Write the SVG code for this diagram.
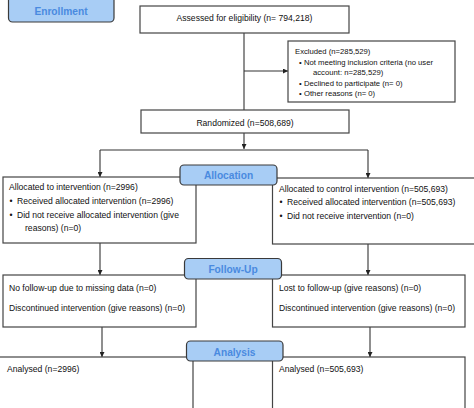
<svg xmlns="http://www.w3.org/2000/svg" width="474" height="408" viewBox="0 0 474 408">
<defs>
<marker id="ah" viewBox="0 0 10 10" refX="10" refY="5" markerWidth="5" markerHeight="5" orient="auto" markerUnits="userSpaceOnUse">
<path d="M0,0 L10,5 L0,10 Z" fill="#222"/>
</marker>
<style>
.box{fill:#fff;stroke:#444;stroke-width:1.2}
.stage{fill:#a8cdf5;stroke:#3a3a3a;stroke-width:1.2}
.st{font-family:"Liberation Sans",Arial,sans-serif;font-weight:bold;font-size:10.2px;fill:#4a8ae0;text-anchor:middle}
.t{font-family:"Liberation Sans",Arial,sans-serif;font-size:8.6px;fill:#111}
.ts{font-family:"Liberation Sans",Arial,sans-serif;font-size:7.7px;fill:#111}
.c{text-anchor:middle}
.ln{fill:none;stroke:#333;stroke-width:1.1}
</style>
</defs>
<rect width="474" height="408" fill="#fff"/>
<g id="connectors">
<path class="ln" d="M244,33 V110"/>
<path class="ln" d="M244,71 H288" marker-end="url(#ah)"/>
<path class="ln" d="M244,133 V149" marker-end="url(#ah)"/>
<path class="ln" d="M100,150 H368"/>
<path class="ln" d="M100,150 V177" marker-end="url(#ah)"/>
<path class="ln" d="M368,150 V178" marker-end="url(#ah)"/>
<path class="ln" d="M100,243 V275" marker-end="url(#ah)"/>
<path class="ln" d="M368,244 V275" marker-end="url(#ah)"/>
<path class="ln" d="M102,327 V357" marker-end="url(#ah)"/>
<path class="ln" d="M370,327 V357" marker-end="url(#ah)"/>
</g>
<g id="assessed">
<rect class="box" x="140" y="6" width="209" height="27"/>
<text class="t c" x="244.5" y="20.5">Assessed for eligibility (n= 794,218)</text>
</g>
<g id="excluded">
<rect class="box" x="288" y="41" width="167" height="61"/>
<text class="ts" x="295" y="54">Excluded  (n=285,529)</text>
<text class="ts" x="299" y="65">•</text><text class="ts" x="304" y="65">Not meeting inclusion criteria (no user</text>
<text class="ts" x="313" y="75">account: n=285,529)</text>
<text class="ts" x="299" y="86">•</text><text class="ts" x="304" y="86">Declined to participate (n= 0)</text>
<text class="ts" x="299" y="96">•</text><text class="ts" x="304" y="96">Other reasons (n= 0)</text>
</g>
<g id="randomized">
<rect class="box" x="141" y="110" width="208" height="23"/>
<text class="t c" x="245" y="126">Randomized (n=508,689)</text>
</g>
<g id="alloc-left">
<rect class="box" x="3" y="177" width="193" height="66"/>
<text class="t" x="9" y="190">Allocated to intervention (n=2996)</text>
<text class="t" x="9.5" y="204">•</text><text class="t" x="17" y="204">Received allocated intervention (n=2996)</text>
<text class="t" x="9.5" y="218">•</text><text class="t" x="17" y="218">Did not receive allocated intervention (give</text>
<text class="t" x="25" y="231">reasons) (n=0)</text>
</g>
<g id="alloc-right">
<rect class="box" x="272.5" y="178" width="210" height="66"/>
<text class="t" x="279" y="192">Allocated to control intervention (n=505,693)</text>
<text class="t" x="279.5" y="205">•</text><text class="t" x="287" y="205">Received allocated intervention (n=505,693)</text>
<text class="t" x="279.5" y="219">•</text><text class="t" x="287" y="219">Did not receive intervention (n=0)</text>
</g>
<g id="follow-left">
<rect class="box" x="3" y="275" width="193" height="52"/>
<text class="t" x="9" y="291">No follow-up due to missing data (n=0)</text>
<text class="t" x="9" y="311">Discontinued intervention (give reasons) (n=0)</text>
</g>
<g id="follow-right">
<rect class="box" x="272.5" y="275" width="192.5" height="52"/>
<text class="t" x="279" y="291">Lost to follow-up (give reasons) (n=0)</text>
<text class="t" x="279" y="311">Discontinued intervention (give reasons) (n=0)</text>
</g>
<g id="analysed-left">
<rect class="box" x="-2" y="357" width="195" height="60"/>
<text class="t" x="7" y="372">Analysed  (n=2996)</text>
</g>
<g id="analysed-right">
<rect class="box" x="272.5" y="357" width="192.5" height="60"/>
<text class="t" x="279" y="372">Analysed  (n=505,693)</text>
</g>
<g id="enrollment">
<rect class="stage" x="8.5" y="-6" width="105.5" height="28" rx="4"/>
<text class="st" x="61" y="15">Enrollment</text>
</g>
<g id="allocation">
<rect class="stage" x="180" y="165" width="97" height="20" rx="4"/>
<text class="st" x="228.5" y="179">Allocation</text>
</g>
<g id="follow-up">
<rect class="stage" x="184.5" y="258.5" width="97" height="20.5" rx="4"/>
<text class="st" x="233" y="273">Follow-Up</text>
</g>
<g id="analysis">
<rect class="stage" x="186.5" y="341" width="96.5" height="20" rx="4"/>
<text class="st" x="234.5" y="355.5">Analysis</text>
</g>
</svg>
